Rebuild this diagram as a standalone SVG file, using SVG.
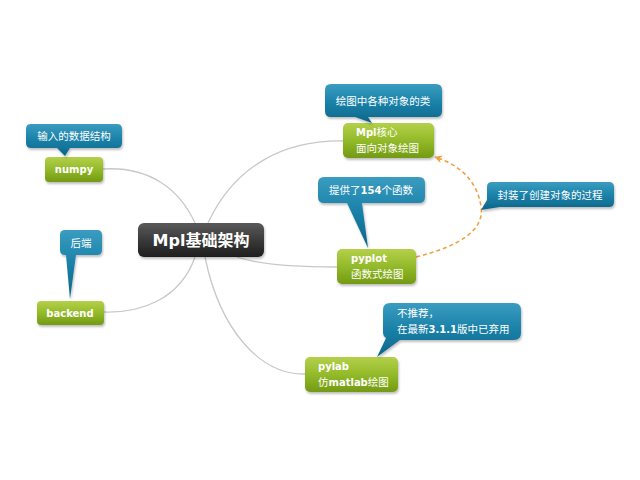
<svg xmlns="http://www.w3.org/2000/svg" width="640" height="480" viewBox="0 0 640 480">
<defs>
<linearGradient id="gGreen" x1="0" y1="0" x2="0" y2="1">
<stop offset="0" stop-color="#b4d04a"/>
<stop offset="0.5" stop-color="#93ba2a"/>
<stop offset="1" stop-color="#739a12"/>
</linearGradient>
<linearGradient id="gBlue" x1="0" y1="0" x2="0" y2="1">
<stop offset="0" stop-color="#3a9cc0"/>
<stop offset="0.5" stop-color="#1a80a8"/>
<stop offset="1" stop-color="#0c6688"/>
</linearGradient>
<linearGradient id="gDark" x1="0" y1="0" x2="0" y2="1">
<stop offset="0" stop-color="#5a5a5a"/>
<stop offset="0.5" stop-color="#3a3a3a"/>
<stop offset="1" stop-color="#1e1e1e"/>
</linearGradient>
<filter id="sh" x="-20%" y="-20%" width="140%" height="160%">
<feDropShadow dx="1" dy="2" stdDeviation="1.2" flood-color="#000" flood-opacity="0.25"/>
</filter>
<marker id="arr" viewBox="0 0 10 10" refX="9" refY="5" markerWidth="8" markerHeight="8" orient="auto" markerUnits="userSpaceOnUse">
<path d="M0,0 L10,5 L0,10 L3,5 Z" fill="#f0a040"/>
</marker>
</defs>
<style>
.conn{fill:none;stroke:#c8c8c8;stroke-width:1.3}
.dash{fill:none;stroke:#f0a040;stroke-width:1.6;stroke-dasharray:4 3}
.green{fill:url(#gGreen);filter:url(#sh)}
.blue{fill:url(#gBlue);filter:url(#sh)}
.dark{fill:url(#gDark);filter:url(#sh)}
.t{fill:#ffffff;font-family:"DejaVu Sans","Noto Sans CJK SC",sans-serif;font-size:10px}
.b{font-weight:bold}
.c{font-family:"Noto Sans CJK SC",sans-serif;font-weight:normal;font-size:10.5px}
.mid{text-anchor:middle}
</style>
<rect width="640" height="480" fill="#ffffff"/>
<g id="connectors">
<path class="conn" d="M103,169 C150,166 180,190 195,223"/>
<path class="conn" d="M208,223 C235,165 285,140 343,141"/>
<path class="conn" d="M195,257 C180,300 140,313 104,312"/>
<path class="conn" d="M237,257 C260,265 300,267 337,267"/>
<path class="conn" d="M205,257 C220,330 260,375 305,374"/>
<path class="dash" d="M416,257 C460,246 485,230 481,206 C477,182 462,166 435,157" marker-end="url(#arr)"/>
</g>
<g id="center">
<rect class="dark" x="138" y="223" width="126" height="34" rx="6"/>
<text class="t b mid" x="201" y="246" style="font-size:16px">Mpl<tspan class="c" style="font-size:16px;font-weight:bold">基础架构</tspan></text>
</g>
<g id="numpy">
<rect class="green" x="45" y="157" width="58" height="25" rx="4"/>
<text class="t b mid" x="74" y="173">numpy</text>
</g>
<g id="numpy-note">
<path class="blue" d="M31,124 H117 Q122,124 122,129 V143 Q122,148 117,148 H70 L65,156 L57,148 H31 Q26,148 26,143 V129 Q26,124 31,124 Z"/>
<text class="t c mid" x="74" y="140">输入的数据结构</text>
</g>
<g id="backend">
<rect class="green" x="37" y="301" width="67" height="24" rx="4"/>
<text class="t b mid" x="70" y="317">backend</text>
</g>
<g id="backend-note">
<path class="blue" d="M65,230 H97 Q102,230 102,235 V250 Q102,255 97,255 H76 L70,299 L66,255 H65 Q60,255 60,250 V235 Q60,230 65,230 Z"/>
<text class="t c mid" x="81" y="247">后端</text>
</g>
<g id="mpl">
<rect class="green" x="343" y="123" width="91" height="35" rx="5"/>
<text class="t" x="356" y="136"><tspan class="b">Mpl</tspan><tspan class="c">核心</tspan></text>
<text class="t c" x="356" y="152">面向对象绘图</text>
</g>
<g id="mpl-note">
<path class="blue" d="M331,84 H436 Q442,84 442,90 V111 Q442,117 436,117 H368 L372,123 L355,117 H331 Q325,117 325,111 V90 Q325,84 331,84 Z"/>
<text class="t c mid" x="383" y="105">绘图中各种对象的类</text>
</g>
<g id="pyplot">
<rect class="green" x="337" y="249" width="79" height="35" rx="5"/>
<text class="t b" x="351" y="262">pyplot</text>
<text class="t c" x="351" y="278">函数式绘图</text>
</g>
<g id="pyplot-note">
<path class="blue" d="M324,177 H419 Q425,177 425,183 V197 Q425,203 419,203 H362 L368,248 L347,203 H324 Q318,203 318,197 V183 Q318,177 324,177 Z"/>
<text class="t mid" x="371" y="194"><tspan class="c">提供了</tspan><tspan class="b">154</tspan><tspan class="c">个函数</tspan></text>
</g>
<g id="wrap-note">
<path class="blue" d="M492,182 H609 Q614,182 614,187 V202 Q614,207 609,207 H500 L481,210 L487,200 V187 Q487,182 492,182 Z"/>
<text class="t c mid" x="550" y="199">封装了创建对象的过程</text>
</g>
<g id="pylab">
<rect class="green" x="305" y="357" width="93" height="35" rx="5"/>
<text class="t b" x="318" y="370">pylab</text>
<text class="t" x="318" y="386"><tspan class="c">仿</tspan><tspan class="b">matlab</tspan><tspan class="c">绘图</tspan></text>
</g>
<g id="pylab-note">
<path class="blue" d="M390,303 H514 Q521,303 521,310 V333 Q521,340 514,340 H400 L377,357 L386,338 Q383,336 383,333 V310 Q383,303 390,303 Z"/>
<text class="t c" x="397" y="317">不推荐，</text>
<text class="t" x="397" y="333"><tspan class="c">在最新</tspan><tspan class="b">3.1.1</tspan><tspan class="c">版中已弃用</tspan></text>
</g>
</svg>
